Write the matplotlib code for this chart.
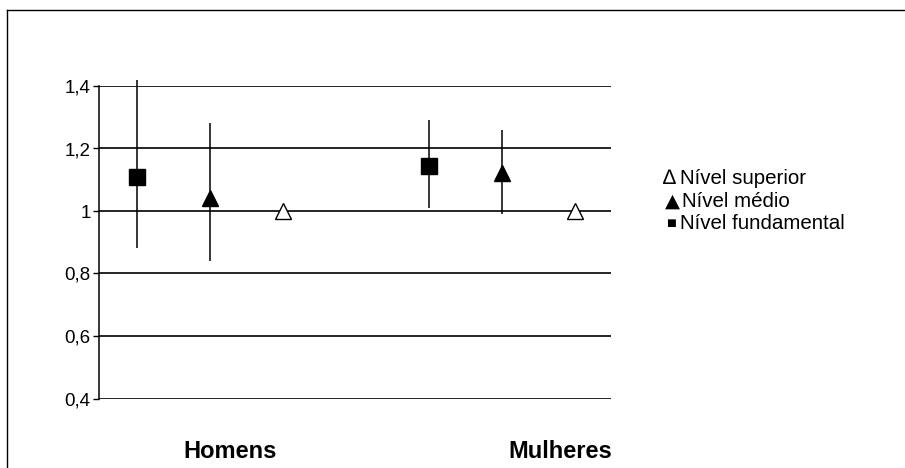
import matplotlib.pyplot as plt
from matplotlib.lines import Line2D

plt.rcParams['font.family'] = ['Liberation Sans', 'DejaVu Sans']

groups = ["Homens", "Mulheres"]
levels = ["Nível fundamental", "Nível médio", "Nível superior"]

# estimates per group, in order fundamental, medio, superior
est_homens = [1.11, 1.04, 1.0]
low_homens = [0.88, 0.84, 1.0]
high_homens = [1.42, 1.28, 1.0]

est_mulheres = [1.145, 1.12, 1.0]
low_mulheres = [1.01, 0.99, 1.0]
high_mulheres = [1.29, 1.26, 1.0]

yticks = [0.4, 0.6, 0.8, 1.0, 1.2, 1.4]
ytick_labels = ["0,4", "0,6", "0,8", "1", "1,2", "1,4"]

fig = plt.figure(figsize=(9.05, 4.68), dpi=100)
ax = fig.add_axes([99/905, 1-398.5/468, (611-99)/905, (398.5-86)/468])

markers = [dict(marker='s', ms=11, mfc='black', mec='black'),
           dict(marker='^', ms=12, mfc='black', mec='black'),
           dict(marker='^', ms=11, mfc='white', mec='black', mew=1)]

for gi, (est, lo, hi) in enumerate([(est_homens, low_homens, high_homens),
                                    (est_mulheres, low_mulheres, high_mulheres)]):
    for li in range(3):
        x = gi * 4 + li
        if hi[li] != lo[li]:
            ax.vlines(x, lo[li], hi[li], color='black', lw=1.1, zorder=3, clip_on=False)
        ax.plot([x], [est[li]], linestyle='none', zorder=4, clip_on=False, **markers[li])

for y in yticks:
    ax.axhline(y, color='black', lw=1.2, zorder=1)

ax.set_xlim(-0.52, 6.49)
ax.set_ylim(0.4, 1.4)
ax.set_yticks(yticks)
ax.set_yticklabels(ytick_labels, fontsize=13.5)
ax.tick_params(axis='y', length=4, width=1, pad=2)
ax.set_xticks([1.27, 5.8])
ax.set_xticklabels(groups, fontsize=17, fontweight='bold')
ax.tick_params(axis='x', length=0, pad=30)
for s in ['top', 'right', 'bottom']:
    ax.spines[s].set_visible(False)
ax.spines['left'].set_linewidth(1.1)

# legend as text lines (symbol + label)
leg_sym = ["∆", "▲", "■"]
leg_sym_size = [15, 14, 7.5]
leg_sym_x = [663, 665, 666]
leg_txt = ["Nível superior", "Nível médio", "Nível fundamental"]
leg_txt_x = [680, 682, 680]
leg_y = [177, 200, 222]
for s, fs, sx, t, tx, y in zip(leg_sym, leg_sym_size, leg_sym_x, leg_txt, leg_txt_x, leg_y):
    fig.text(sx/905, 1-(y+1)/468, s, fontsize=fs, va='center', ha='left',
             family=['DejaVu Sans'] if s != "∆" else ['Liberation Sans', 'DejaVu Sans'])
    fig.text(tx/905, 1-(y+7)/468, t, fontsize=14.8, va='baseline', ha='left')

# outer frame (top and left edges only, rest runs off the picture)
fig.add_artist(Line2D([7/905, 1.0], [1-10/468, 1-10/468], transform=fig.transFigure,
                      color='black', lw=1))
fig.add_artist(Line2D([7/905, 7/905], [0, 1-10/468], transform=fig.transFigure,
                      color='black', lw=1))

fig.savefig("out.png", dpi=100)
